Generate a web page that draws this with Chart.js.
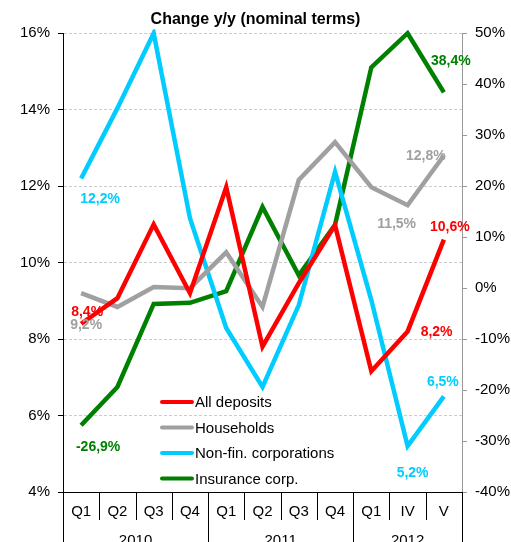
<!DOCTYPE html>
<html>
<head>
<meta charset="utf-8">
<script src="https://cdn.jsdelivr.net/npm/chart.js@4.4.1/dist/chart.umd.min.js"></script>
<style>
  html, body { margin: 0; padding: 0; background: #fff; }
  #wrap { width: 511px; height: 542px; position: relative; }
</style>
</head>
<body>
<div id="wrap"><canvas id="chart"></canvas></div>
<script>
// ─── DATA ────────────────────────────────────────────────────
const quarters = ['Q1', 'Q2', 'Q3', 'Q4', 'Q1', 'Q2', 'Q3', 'Q4', 'Q1', 'IV', 'V'];
const years = ['2010', '2011', '2012'];
const yearSizes = [4, 4, 3];

const allDeposits   = [8.4, 9.07, 11.0, 9.2, 11.97, 7.8, 9.46, 10.98, 7.16, 8.2, 10.6];
const households    = [9.2, 8.84, 9.36, 9.33, 10.27, 8.84, 12.16, 13.15, 11.97, 11.5, 12.8];
const nonFinCorp    = [12.2, 14.04, 16.0, 11.16, 8.29, 6.75, 8.89, 12.37, 9.02, 5.2, 6.5];
const insuranceCorp = [-26.9, -19.4, -3.1, -2.9, -0.6, 15.9, 2.5, 12.4, 43.3, 50.0, 38.4];

const leftTicks  = { min: 4, max: 16, step: 2 };
const rightTicks = { min: -40, max: 50, step: 10 };

// which points carry a value label: [datasetIndex, pointIndex, text, dx, dy]
const pointLabels = [
  [0, 0, '8,4%', 6, -12],
  [1, 0, '9,2%', 5, 32],
  [2, 0, '12,2%', 19, 21],
  [3, 0, '-26,9%', 17, 22],
  [3, 10, '38,4%', 7, -31],
  [1, 10, '12,8%', -18, 1],
  [1, 9, '11,5%', -11, 19],
  [0, 10, '10,6%', 6, -13],
  [0, 9, '8,2%', 29, 1],
  [2, 10, '6,5%', -1, -14],
  [2, 9, '5,2%', 5, 27]
];

const FONT = "Arial, 'Liberation Sans', sans-serif";

// ─── PLUGINS ─────────────────────────────────────────────────
const valueLabels = {
  id: 'valueLabels',
  afterDatasetsDraw(chart) {
    const ctx = chart.ctx;
    ctx.save();
    ctx.font = `bold 14px ${FONT}`;
    ctx.textAlign = 'center';
    ctx.textBaseline = 'middle';
    pointLabels.forEach(([ds, i, text, dx, dy]) => {
      const pt = chart.getDatasetMeta(ds).data[i];
      ctx.fillStyle = chart.data.datasets[ds].borderColor;
      ctx.fillText(text, pt.x + dx, pt.y + dy);
    });
    ctx.restore();
  }
};

const innerLegend = {
  id: 'innerLegend',
  afterDatasetsDraw(chart) {
    const ctx = chart.ctx;
    const x0 = 160, y0 = 402, rowH = 25.5;
    ctx.save();
    ctx.font = `15px ${FONT}`;
    ctx.textBaseline = 'middle';
    ctx.lineCap = 'round';
    chart.data.datasets.forEach((d, k) => {
      const y = y0 + k * rowH;
      ctx.strokeStyle = d.borderColor;
      ctx.lineWidth = 4;
      ctx.beginPath();
      ctx.moveTo(x0 + 2, y);
      ctx.lineTo(x0 + 32, y);
      ctx.stroke();
      ctx.fillStyle = '#000';
      ctx.fillText(d.label, x0 + 35, y + 1);
    });
    ctx.restore();
  }
};

const yearAxis = {
  id: 'yearAxis',
  afterDraw(chart) {
    const ctx = chart.ctx;
    const area = chart.chartArea;
    const step = (area.right - area.left) / quarters.length;
    const edge = i => area.left + i * step;
    ctx.save();
    ctx.strokeStyle = '#000';
    ctx.lineWidth = 1;
    // short separators between quarters
    for (let i = 1; i < quarters.length; i++) {
      ctx.beginPath();
      ctx.moveTo(Math.round(edge(i)) + 0.5, area.bottom);
      ctx.lineTo(Math.round(edge(i)) + 0.5, area.bottom + 28);
      ctx.stroke();
    }
    // year groups
    let start = 0;
    ctx.font = `15px ${FONT}`;
    ctx.fillStyle = '#000';
    ctx.textAlign = 'center';
    ctx.textBaseline = 'top';
    const bounds = [0];
    yearSizes.forEach((n, k) => {
      const end = start + n;
      ctx.fillText(years[k], (edge(start) + edge(end)) / 2, area.bottom + 41);
      bounds.push(end);
      start = end;
    });
    bounds.forEach(b => {
      const x = Math.round(edge(b)) + 0.5;
      ctx.beginPath();
      ctx.moveTo(x, area.bottom);
      ctx.lineTo(x, chart.height);
      ctx.stroke();
    });
    ctx.restore();
  }
};

// ─── CHART ───────────────────────────────────────────────────
function series(label, data, color, axis) {
  return {
    label, data, yAxisID: axis,
    borderColor: color, backgroundColor: color,
    borderWidth: 4.5, pointRadius: 0, tension: 0,
    borderJoinStyle: 'miter', clip: 4
  };
}

new Chart(document.getElementById('chart'), {
  type: 'line',
  data: {
    labels: quarters,
    datasets: [
      series('All deposits', allDeposits, '#ff0000', 'y'),
      series('Households', households, '#a0a0a0', 'y'),
      series('Non-fin. corporations', nonFinCorp, '#00ccff', 'y'),
      series('Insurance corp.', insuranceCorp, '#008000', 'y1')
    ]
  },
  options: {
    responsive: true,
    maintainAspectRatio: false,
    animation: false,
    plugins: {
      legend: { display: false },
      tooltip: { enabled: false },
      title: {
        display: true,
        text: 'Change y/y (nominal terms)',
        color: '#000',
        font: { family: FONT, size: 16, weight: 'bold' },
        padding: { top: 10, bottom: 4 }
      }
    },
    scales: {
      x: {
        offset: true,
        grid: { display: false },
        border: { display: true, color: '#000', width: 1 },
        ticks: { color: '#000', font: { family: FONT, size: 15 }, padding: 3, maxRotation: 0, autoSkip: false },
        afterFit: s => { s.height = 50; }
      },
      y: {
        position: 'left',
        min: leftTicks.min, max: leftTicks.max,
        grid: { color: '#cccccc', tickColor: '#000', tickLength: 5, tickBorderDash: [] },
        border: { display: true, color: '#000', width: 1, dash: [3, 2] },
        ticks: {
          stepSize: leftTicks.step, color: '#000', padding: 8,
          font: { family: FONT, size: 15 },
          callback: v => v + '%'
        },
        afterFit: s => { s.width = 63; }
      },
      y1: {
        position: 'right',
        min: rightTicks.min, max: rightTicks.max,
        grid: { drawOnChartArea: false, color: '#999', tickLength: 5 },
        border: { display: true, color: '#999', width: 1 },
        ticks: {
          stepSize: rightTicks.step, color: '#000', padding: 8,
          font: { family: FONT, size: 15 },
          callback: v => v + '%'
        },
        afterFit: s => { s.width = 49; }
      }
    }
  },
  plugins: [valueLabels, innerLegend, yearAxis]
});
</script>
</body>
</html>
